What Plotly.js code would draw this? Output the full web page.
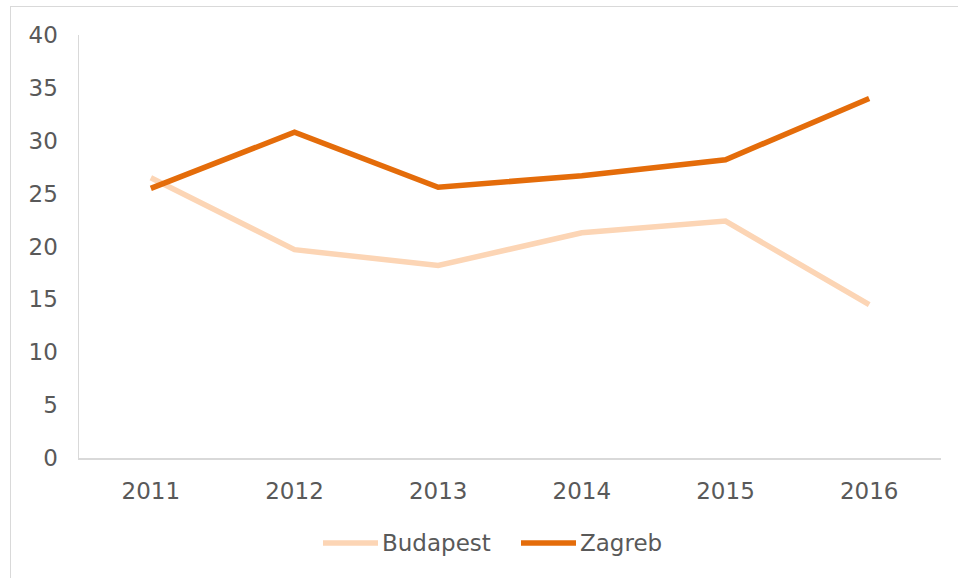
<!DOCTYPE html>
<html><head><meta charset="utf-8">
<script src="https://cdn.plot.ly/plotly-3.0.1.min.js"></script>
<style>
html,body{margin:0;padding:0;background:#fff;overflow:hidden;}
#frame{position:absolute;left:10px;top:6px;width:1000px;height:640px;border:1.5px solid #d9d9d9;box-sizing:border-box;}
#chart{position:absolute;left:0;top:0;width:958px;height:578px;}
</style></head>
<body>
<div id="frame"></div>
<div id="chart"></div>
<script>
const years = ['2011','2012','2013','2014','2015','2016'];
const budapest = [26.5, 19.7, 18.2, 21.3, 22.4, 14.5];
const zagreb = [25.5, 30.8, 25.6, 26.7, 28.2, 34.0];
const seriesNames = ['Budapest','Zagreb'];
const colors = ['#FCD5B5','#E46C0A'];
const yTicks = [0,5,10,15,20,25,30,35,40];

const font = {family:'DejaVu Sans, Verdana, sans-serif', size:23, color:'#595959'};
const traces = [budapest, zagreb].map((v,i)=>({
  x: years, y: v, type:'scatter', mode:'lines', name: seriesNames[i],
  line:{color:colors[i], width:5.5}, showlegend:false, hoverinfo:'skip'
}));

// custom legend (paper coords relative to plot area)
const L = 79, R = 941, T = 35, B = 458;
const W = R - L, H = B - T;
const px = x => (x - L) / W;
const py = y => (B - y) / H;
const legendY = 543;
const legendItems = [{x0:323,x1:378,tx:380},{x0:521,x1:576,tx:578}];
const shapes = legendItems.map((it,i)=>({
  type:'line', xref:'paper', yref:'paper', x0:px(it.x0), x1:px(it.x1), y0:py(legendY), y1:py(legendY),
  line:{color:colors[i], width:5.5}
}));
const annotations = legendItems.map((it,i)=>({
  xref:'paper', yref:'paper', x:px(it.tx), y:py(legendY), xanchor:'left', yanchor:'middle',
  text: seriesNames[i], showarrow:false, font: font
}));

const layout = {
  width:958, height:578,
  margin:{l:L, r:958-R, t:T, b:578-B},
  paper_bgcolor:'rgba(0,0,0,0)', plot_bgcolor:'rgba(0,0,0,0)',
  font: font,
  xaxis:{type:'category', range:[-0.5,5.5], showgrid:false, zeroline:false,
    showline:true, linecolor:'#d9d9d9', linewidth:1.5, ticks:'', tickfont:font, ticklabelstandoff:12,
    fixedrange:true},
  yaxis:{range:[0,40], tickvals:yTicks, showgrid:false, zeroline:false,
    showline:true, linecolor:'#d9d9d9', linewidth:1.5, ticks:'', tickfont:font, ticklabelstandoff:15,
    fixedrange:true},
  shapes: shapes, annotations: annotations, showlegend:false
};
Plotly.newPlot('chart', traces, layout, {displayModeBar:false, staticPlot:true});
</script>
</body></html>
